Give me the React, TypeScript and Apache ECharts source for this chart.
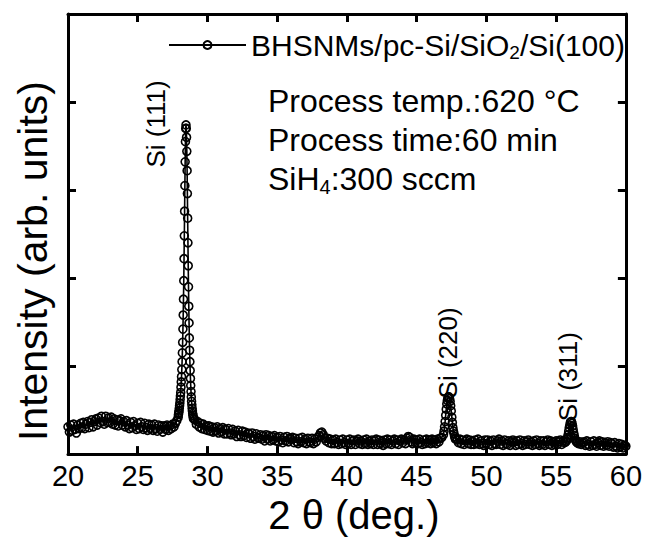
import React, { useEffect, useRef } from "react";
import * as echarts from "echarts";

// ---- data (2θ in degrees, intensity in arb. units) ----
const xTicks = [20, 25, 30, 35, 40, 45, 50, 55, 60];
const seriesName = "BHSNMs/pc-Si/SiO2/Si(100)";

// background 20.0 - 27.9, step 0.1
const bg1Start = 20.0;
const bg1 = [
  0.31, 0.25, 0.33, 0.27, 0.34, 0.28, 0.24, 0.33, 0.29, 0.35,
  0.30, 0.36, 0.29, 0.34, 0.37, 0.30, 0.36, 0.39, 0.31, 0.37,
  0.40, 0.33, 0.41, 0.36, 0.43, 0.37, 0.34, 0.43, 0.36, 0.41,
  0.36, 0.42, 0.34, 0.40, 0.33, 0.39, 0.32, 0.38, 0.40, 0.33,
  0.37, 0.31, 0.38, 0.33, 0.29, 0.36, 0.30, 0.37, 0.32, 0.28,
  0.35, 0.29, 0.36, 0.31, 0.28, 0.35, 0.30, 0.27, 0.34, 0.29,
  0.33, 0.27, 0.34, 0.29, 0.26, 0.33, 0.28, 0.32, 0.25, 0.32,
  0.28, 0.33, 0.27, 0.32, 0.29, 0.34, 0.31, 0.35, 0.38, 0.42,
];
// Si(111) peak 27.92 - 29.00, step 0.02
const p111Start = 27.92;
const p111 = [
  0.45, 0.47, 0.49, 0.52, 0.55, 0.58, 0.62, 0.66, 0.70, 0.76,
  0.82, 0.88, 0.96, 1.05, 1.15, 1.27, 1.42, 1.58, 1.76, 1.97,
  2.22, 2.48, 2.76, 3.05, 3.32, 3.55, 3.70, 3.74, 3.70, 3.60,
  3.44, 3.22, 2.96, 2.68, 2.40, 2.14, 1.90, 1.68, 1.49, 1.32,
  1.18, 1.05, 0.95, 0.86, 0.78, 0.71, 0.65, 0.60, 0.56, 0.52,
  0.49, 0.46, 0.44, 0.42, 0.40,
];
// background 29.1 - 46.8, step 0.1
const bg2Start = 29.1;
const bg2 = [
  0.39, 0.34, 0.37, 0.31, 0.35, 0.29, 0.34, 0.28, 0.32,
  0.27, 0.32, 0.26, 0.31, 0.25, 0.30, 0.26, 0.31, 0.24, 0.29,
  0.25, 0.30, 0.23, 0.28, 0.23, 0.29, 0.24, 0.22, 0.28, 0.23,
  0.26, 0.20, 0.27, 0.22, 0.20, 0.26, 0.21, 0.25, 0.19, 0.24,
  0.23, 0.18, 0.24, 0.20, 0.17, 0.23, 0.19, 0.18, 0.22, 0.17,
  0.21, 0.15, 0.22, 0.17, 0.21, 0.15, 0.20, 0.16, 0.21, 0.15,
  0.19, 0.14, 0.20, 0.16, 0.13, 0.19, 0.15, 0.20, 0.14, 0.18,
  0.17, 0.19, 0.13, 0.18, 0.14, 0.12, 0.18, 0.14, 0.19, 0.13,
  0.17, 0.12, 0.18, 0.14, 0.13, 0.18, 0.12, 0.17, 0.14, 0.19,
  0.21, 0.24, 0.25, 0.22, 0.18, 0.15, 0.18, 0.13, 0.17, 0.12,
  0.16, 0.12, 0.17, 0.13, 0.11, 0.16, 0.12, 0.17, 0.13, 0.11,
  0.16, 0.12, 0.17, 0.11, 0.15, 0.16, 0.11, 0.15, 0.17, 0.12,
  0.15, 0.11, 0.16, 0.12, 0.17, 0.11, 0.15, 0.12, 0.16, 0.11,
  0.15, 0.17, 0.11, 0.16, 0.12, 0.15, 0.10, 0.16, 0.12, 0.17,
  0.12, 0.16, 0.11, 0.15, 0.17, 0.12, 0.16, 0.11, 0.15, 0.17,
  0.13, 0.16, 0.12, 0.18, 0.20, 0.19, 0.14, 0.12, 0.17, 0.13,
  0.16, 0.12, 0.17, 0.13, 0.11, 0.16, 0.12, 0.17, 0.13, 0.16,
  0.12, 0.17, 0.13, 0.16, 0.12, 0.17, 0.14, 0.18, 0.19,
];
// Si(220) peak 46.92 - 47.80, step 0.04
const p220Start = 46.92;
const p220 = [
  0.22, 0.26, 0.31, 0.37, 0.44, 0.51, 0.57, 0.61, 0.64, 0.65,
  0.65, 0.63, 0.60, 0.55, 0.49, 0.42, 0.36, 0.30, 0.26, 0.23,
  0.20, 0.18, 0.17,
];
// background 47.9 - 55.7, step 0.1
const bg3Start = 47.9;
const bg3 = [
  0.16,
  0.13, 0.17, 0.12, 0.16, 0.11, 0.15, 0.17, 0.12, 0.16, 0.11,
  0.15, 0.11, 0.16, 0.12, 0.17, 0.11, 0.15, 0.12, 0.10, 0.16,
  0.12, 0.16, 0.11, 0.15, 0.10, 0.16, 0.12, 0.11, 0.15, 0.17,
  0.11, 0.15, 0.10, 0.16, 0.12, 0.11, 0.15, 0.10, 0.14, 0.16,
  0.14, 0.10, 0.15, 0.11, 0.16, 0.12, 0.10, 0.15, 0.11, 0.14,
  0.16, 0.11, 0.14, 0.10, 0.15, 0.11, 0.16, 0.12, 0.10, 0.15,
  0.11, 0.15, 0.10, 0.14, 0.16, 0.11, 0.15, 0.10, 0.14, 0.11,
  0.15, 0.11, 0.14, 0.16, 0.11, 0.15, 0.13, 0.14,
];
// Si(311) peak 55.74 - 56.50, step 0.04
const p311Start = 55.74;
const p311 = [
  0.15, 0.17, 0.19, 0.22, 0.26, 0.30, 0.33, 0.36, 0.37, 0.37,
  0.35, 0.32, 0.28, 0.24, 0.21, 0.18, 0.16, 0.15, 0.14, 0.13,
];
// background 56.6 - 60.0, step 0.1
const bg4Start = 56.6;
const bg4 = [
  0.12, 0.14, 0.11, 0.13,
  0.14, 0.10, 0.15, 0.11, 0.09, 0.14, 0.10, 0.15, 0.11, 0.09,
  0.13, 0.15, 0.10, 0.14, 0.09, 0.13, 0.10, 0.14, 0.09, 0.13,
  0.12, 0.08, 0.13, 0.09, 0.07, 0.12, 0.08, 0.11, 0.07, 0.10,
  0.09,
];

// peak labels: [label, 2θ, intensity] (centre of the rotated text)
const peakLabels: [string, number, number][] = [
  ["Si (111)", 26.33, 3.75],
  ["Si (220)", 47.26, 1.15],
  ["Si (311)", 55.87, 0.88],
];

const processLines = [
  "Process temp.:620 °C",
  "Process time:60 min",
  "SiH{sub|4}:300 sccm",
];

const seg = (start: number, step: number, vals: number[]) =>
  vals.map((v, i) => [Math.round((start + i * step) * 100) / 100, v]);

const FONT = '"Liberation Sans", Arial, sans-serif';

export default function App() {
  const ref = useRef<HTMLDivElement>(null);
  useEffect(() => {
    document.body.style.margin = "0";
    if (!ref.current) return;
    const chart = echarts.init(ref.current, undefined, { renderer: "svg" });
    const data = [
      ...seg(bg1Start, 0.1, bg1),
      ...seg(p111Start, 0.02, p111),
      ...seg(bg2Start, 0.1, bg2),
      ...seg(p220Start, 0.04, p220),
      ...seg(bg3Start, 0.1, bg3),
      ...seg(p311Start, 0.04, p311),
      ...seg(bg4Start, 0.1, bg4),
    ];
    const axisLine = { show: true, onZero: false, lineStyle: { color: "#000", width: 3 } };
    const axisTick = { show: true, inside: true, length: 8, lineStyle: { color: "#000", width: 3 } };
    chart.setOption({
      animation: false,
      backgroundColor: "#fff",
      grid: { left: 68, right: 15, top: 14, bottom: 79, containLabel: false },
      legend: {
        data: [seriesName],
        left: 163,
        top: 25,
        itemWidth: 77,
        itemHeight: 10,
        selectedMode: false,
        formatter: () => "BHSNMs/pc-Si/SiO{sub|2}/Si(100)",
        textStyle: {
          color: "#000",
          fontFamily: FONT,
          fontSize: 30,
          rich: {
            sub: { fontFamily: FONT, fontSize: 19, color: "#000", padding: [15, 0, 0, 0] },
          },
        },
      },
      xAxis: [
        {
          type: "value",
          min: 20,
          max: 60,
          interval: 5,
          position: "bottom",
          axisLine,
          axisTick,
          splitLine: { show: false },
          axisLabel: {
            color: "#000",
            fontFamily: FONT,
            fontSize: 29,
            margin: 7,
            formatter: (v: number) => (xTicks.includes(v) ? String(v) : ""),
          },
          name: "2 θ (deg.)",
          nameLocation: "middle",
          nameGap: 37,
          nameTextStyle: { color: "#000", fontFamily: FONT, fontSize: 40, padding: [0, 0, 0, 14] },
        },
        {
          type: "value",
          min: 20,
          max: 60,
          interval: 5,
          position: "top",
          axisLine,
          axisTick,
          axisLabel: { show: false },
          splitLine: { show: false },
        },
      ],
      yAxis: [
        {
          type: "value",
          min: 0,
          max: 5,
          interval: 1,
          position: "left",
          axisLine,
          axisTick,
          axisLabel: { show: false },
          splitLine: { show: false },
          name: "Intensity (arb. units)",
          nameLocation: "middle",
          nameGap: 15,
          nameTextStyle: { color: "#000", fontFamily: FONT, fontSize: 41, padding: [0, 54, 0, 0] },
        },
        {
          type: "value",
          min: 0,
          max: 5,
          interval: 1,
          position: "right",
          axisLine,
          axisTick,
          axisLabel: { show: false },
          splitLine: { show: false },
        },
      ],
      series: [
        {
          name: seriesName,
          type: "line",
          data,
          symbol: "circle",
          symbolSize: 8,
          showAllSymbol: true,
          itemStyle: { color: "rgba(255,255,255,0)", borderColor: "#000", borderWidth: 1.6 },
          lineStyle: { color: "#000", width: 1.6 },
          emphasis: { disabled: true },
        },
      ],
    });

    const labelGraphics = peakLabels.map(([t, x, y]) => {
      const [px, py] = chart.convertToPixel({ xAxisIndex: 0, yAxisIndex: 0 }, [x, y]) as number[];
      return {
        type: "text",
        x: px,
        y: py,
        rotation: Math.PI / 2,
        style: {
          text: t,
          fill: "#000",
          fontFamily: FONT,
          fontSize: 26,
          align: "center",
          verticalAlign: "middle",
        },
      };
    });
    const processGraphics = processLines.map((t, i) => ({
      type: "text",
      left: 268,
      top: 85 + i * 39,
      style: {
        text: t,
        fill: "#000",
        fontFamily: FONT,
        fontSize: 32,
        rich: {
          sub: { fontFamily: FONT, fontSize: 20, fill: "#000", padding: [16, 0, 0, 0] },
        },
      },
    }));
    chart.setOption({ graphic: [...processGraphics, ...labelGraphics] });
    return () => chart.dispose();
  }, []);
  return <div ref={ref} style={{ width: 645, height: 540 }} />;
}
